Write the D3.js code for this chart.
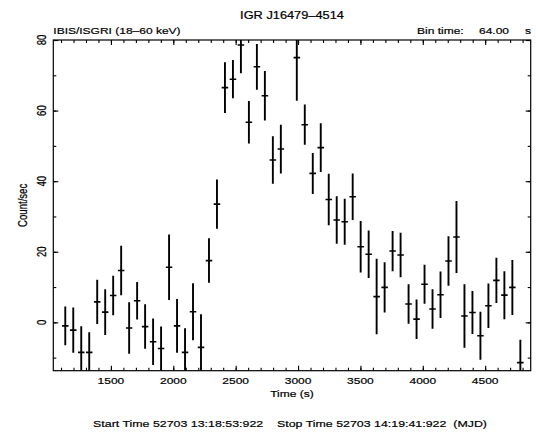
<!DOCTYPE html>
<html>
<head>
<meta charset="utf-8">
<script src="https://cdn.jsdelivr.net/npm/d3@7"></script>
<style>
body { margin: 0; background: #fff; }
text { font-family: "Liberation Sans", Arial, sans-serif; font-size: 12px; fill: #000; stroke: #000; stroke-width: 0.25; }
</style>
</head>
<body>
<div id="chart"></div>
<script>
/* global d3 */

// light curve, 64 s bins (bin at 2926 s is off the plot)
const times = [1134, 1198, 1262, 1326, 1390, 1454, 1518, 1582, 1646, 1710,
  1774, 1838, 1902, 1966, 2030, 2094, 2158, 2222, 2286, 2350,
  2414, 2478, 2542, 2606, 2670, 2734, 2798, 2862, 2990, 3054,
  3118, 3182, 3246, 3310, 3374, 3438, 3502, 3566, 3630, 3694,
  3758, 3822, 3886, 3950, 4014, 4078, 4142, 4206, 4270, 4334,
  4398, 4462, 4526, 4590, 4654, 4718, 4782]
const rates = [-1.0, -2.2, -8.5, -8.5, 5.8, 2.9, 7.6, 14.7, -1.6, 6.1,
  -1.2, -5.5, -7.4, 15.6, -1.0, -8.5, 3.0, -7.1, 17.5, 33.5,
  66.5, 68.9, 78.6, 56.7, 72.4, 64.2, 46.0, 49.1, 75.0, 56.0,
  42.2, 49.5, 34.8, 29.0, 28.5, 35.6, 21.4, 19.3, 7.3, 9.9,
  20.2, 19.1, 5.2, 0.9, 10.8, 3.8, 7.8, 17.4, 24.2, 1.8,
  2.8, -3.8, 4.7, 11.9, 7.7, 9.9, -11.4]
const errs = [5.5, 6.4, 7.4, 5.7, 6.3, 6.5, 5.6, 7.0, 7.3, 5.3,
  6.3, 6.6, 6.2, 9.3, 7.6, 6.8, 8.1, 9.4, 6.3, 7.0,
  7.2, 5.4, 8.0, 6.0, 6.5, 7.0, 6.7, 6.9, 12.2, 5.7,
  5.8, 6.9, 7.3, 6.7, 6.5, 6.6, 7.3, 6.7, 10.7, 7.1,
  5.7, 6.3, 5.6, 5.6, 5.5, 5.6, 6.6, 7.0, 10.2, 9.0,
  6.1, 6.8, 6.3, 6.4, 6.8, 7.8, 6.5]
const xTicks = [1500, 2000, 2500, 3000, 3500, 4000, 4500]
const yTicks = [0, 20, 40, 60, 80]

const width = 540, height = 435
const plotL = 53.3, plotR = 530.7, plotT = 40, plotB = 370.7
const halfBin = 26

const x = d3.scaleLinear().domain([1038, 4865]).range([plotL, plotR])
const y = d3.scaleLinear().domain([-13.7, 80]).range([plotB, plotT])

let svg = d3.select('#chart')
  .append('svg')
  .attr('width', width)
  .attr('height', height)

svg.append('rect').attr('width', width).attr('height', height).attr('fill', '#fff')

// text looks squashed vertically in the original
let label = (px, py, str, anchor, rot) => {
  return svg.append('text')
    .attr('transform', `translate(${px},${py}) scale(1,0.8)` + (rot ? ' rotate(-90)' : ''))
    .attr('text-anchor', anchor)
    .text(str)
}

svg.append('clipPath').attr('id', 'clip')
  .append('rect')
  .attr('x', plotL).attr('y', plotT)
  .attr('width', plotR - plotL).attr('height', plotB - plotT)

// ticks, all pointing inward
let tickAxis = (axis, tx, ty) => {
  let g = svg.append('g').attr('transform', `translate(${tx},${ty})`).call(axis)
  g.select('.domain').remove()
  g.selectAll('line').attr('stroke', '#000').attr('stroke-width', 1.1)
  return g
}
const xMinor = d3.range(1100, 4865, 100)
const yMinor = d3.range(-10, 81, 10)
tickAxis(d3.axisBottom(x).tickValues(xMinor).tickSize(-3).tickFormat(''), 0, plotB)
tickAxis(d3.axisBottom(x).tickValues(xTicks).tickSize(-5).tickFormat(''), 0, plotB)
tickAxis(d3.axisTop(x).tickValues(xMinor).tickSize(-3).tickFormat(''), 0, plotT)
tickAxis(d3.axisTop(x).tickValues(xTicks).tickSize(-5).tickFormat(''), 0, plotT)
tickAxis(d3.axisLeft(y).tickValues(yMinor).tickSize(-3).tickFormat(''), plotL, 0)
tickAxis(d3.axisLeft(y).tickValues(yTicks).tickSize(-5).tickFormat(''), plotL, 0)
tickAxis(d3.axisRight(y).tickValues(yMinor).tickSize(-3).tickFormat(''), plotR, 0)
tickAxis(d3.axisRight(y).tickValues(yTicks).tickSize(-5).tickFormat(''), plotR, 0)

svg.append('rect')
  .attr('x', plotL).attr('y', plotT)
  .attr('width', plotR - plotL).attr('height', plotB - plotT)
  .attr('fill', 'none').attr('stroke', '#000').attr('stroke-width', 1.2)

// error bars
let plot = svg.append('g').attr('clip-path', 'url(#clip)')
plot.selectAll('line.v')
  .data(times)
  .enter()
  .append('line')
  .attr('x1', d => x(d)).attr('x2', d => x(d))
  .attr('y1', (d, i) => y(rates[i] + errs[i]))
  .attr('y2', (d, i) => y(rates[i] - errs[i]))
  .attr('stroke', '#000').attr('stroke-width', 1.9)
plot.selectAll('line.h')
  .data(times)
  .enter()
  .append('line')
  .attr('x1', d => x(d - halfBin)).attr('x2', d => x(d + halfBin))
  .attr('y1', (d, i) => y(rates[i]))
  .attr('y2', (d, i) => y(rates[i]))
  .attr('stroke', '#000').attr('stroke-width', 1.6)

// tick labels
xTicks.forEach(d => label(x(d), 383.5, d, 'middle'))
yTicks.forEach(d => label(46.3, y(d), d, 'middle', true))

label((plotL + plotR) / 2, 19, 'IGR J16479\u20134514', 'middle').style('font-size', '12.8px')
label(plotL, 33.5, 'IBIS/ISGRI (18\u201360 keV)', 'start')
label(417, 33.5, 'Bin time:', 'start')
label(509, 33.5, '64.00', 'end')
label(531, 33.5, 's', 'end')
label((plotL + plotR) / 2, 396.5, 'Time (s)', 'middle')
label(26.5, (plotT + plotB) / 2, 'Count/sec', 'middle', true)
label(290, 427, 'Start Time 52703 13:18:53:922    Stop Time 52703 14:19:41:922  (MJD)', 'middle')
  .attr('xml:space', 'preserve').style('white-space', 'pre').style('font-size', '12.4px')
</script>
</body>
</html>
